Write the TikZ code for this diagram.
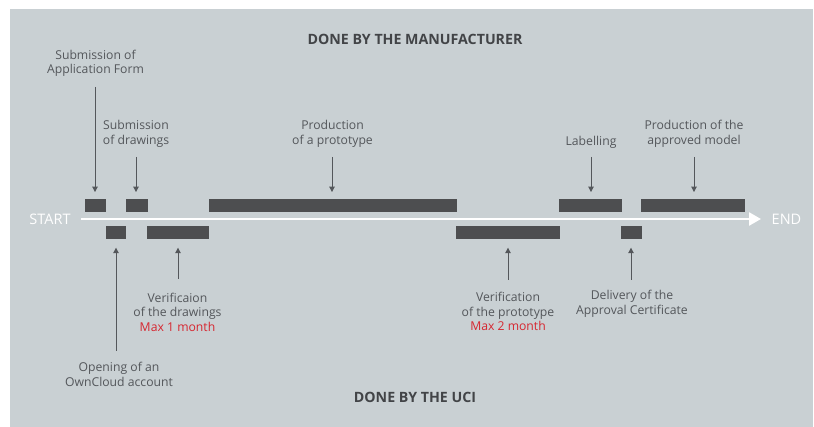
\documentclass[tikz,border=0pt]{standalone}
\usepackage{fontspec}
\setmainfont{Open Sans}
\usetikzlibrary{arrows.meta}
\definecolor{bgc}{RGB}{201,208,211}
\definecolor{barc}{RGB}{77,78,80}
\definecolor{txtc}{RGB}{84,87,91}
\definecolor{headc}{RGB}{66,68,71}
\definecolor{arrc}{RGB}{84,87,91}
\definecolor{redc}{RGB}{214,38,48}
\begin{document}
\begin{tikzpicture}[x=1pt,y=-1pt,
  lbl/.style={inner sep=0pt, align=center, text=txtc, font=\fontsize{12.2}{14.5}\selectfont},
  head/.style={inner sep=0pt, text=headc, font=\fontsize{14.2}{16}\selectfont\bfseries},
  endlbl/.style={inner sep=0pt, text=white, font=\fontsize{14.5}{16}\selectfont},
  barbox/.style={fill=barc, draw=none, inner sep=0pt, minimum height=13.5pt},
  darr/.style={draw=arrc, line width=1pt, -{Triangle[width=5.5pt,length=5.5pt]}, shorten >=6.5pt},
  uarr/.style={draw=arrc, line width=1pt, -{Triangle[width=5.5pt,length=5.5pt]}, shorten >=8pt},
  tline/.style={draw=white, line width=2.6pt, -{Triangle[width=13pt,length=12pt]}, shorten <=10pt, shorten >=10.5pt}
]
\useasboundingbox (0,0) rectangle (814,427);
\fill[white] (0,0) rectangle (814,427);
\fill[bgc] (10,9) rectangle (813,427);

% headings
\node[head] (hman) at (415,39.5) {DONE BY THE MANUFACTURER};
\node[head] (huci) at (415,397) {DONE BY THE UCI};

% start / end
\node[endlbl] (tstart) at (50,219) {START};
\node[endlbl, anchor=west] (tend) at (771.5,219) {END};

% bars above
\node[barbox, minimum width=21pt] (b1) at (95.5,205.5) {};
\node[barbox, minimum width=22pt] (b2) at (137,205.5) {};
\node[barbox, minimum width=248pt] (b3) at (333,205.5) {};
\node[barbox, minimum width=63pt] (b4) at (590.5,205.5) {};
\node[barbox, minimum width=104pt] (b5) at (693,205.5) {};

% bars below
\node[barbox, minimum width=20pt] (b6) at (116,232.75) {};
\node[barbox, minimum width=62pt] (b7) at (178,232.75) {};
\node[barbox, minimum width=104pt] (b8) at (508,232.75) {};
\node[barbox, minimum width=21pt] (b9) at (631.5,232.75) {};

% timeline
\draw[tline] (tstart.east) -- (tend.west);

% labels
\node[lbl] (l1) at (95.5,63.5) {Submission of\\Application Form};
\node[lbl] (l2) at (136,134) {Submission\\of drawings};
\node[lbl] (l3) at (332.5,134) {Production\\of a prototype};
\node[lbl] (l4) at (591,142) {Labelling};
\node[lbl] (l5) at (694,134) {Production of the\\approved model};
\node[lbl] (l6) at (119,374.5) {Opening of an\\OwnCloud account};
\node[lbl] (l7) at (177.5,312) {Verificaion\\of the drawings\\\textcolor{redc}{Max 1 month}};
\node[lbl] (l8) at (508,311.5) {Verification\\of the prototype\\\textcolor{redc}{Max 2 month}};
\node[lbl] (l9) at (632,304) {Delivery of the\\Approval Certificate};

% arrow start points
\coordinate (a1) at (95,87);
\coordinate (a2) at (136,157);
\coordinate (a3) at (332,157);
\coordinate (a4) at (591,157);
\coordinate (a5) at (694,157);
\coordinate (a6) at (116,351);
\coordinate (a7) at (178,279);
\coordinate (a8) at (508,280);
\coordinate (a9) at (631,280);

\draw[darr] (a1) -- (a1 |- b1.north);
\draw[darr] (a2) -- (a2 |- b2.north);
\draw[darr] (a3) -- (a3 |- b3.north);
\draw[darr] (a4) -- (a4 |- b4.north);
\draw[darr] (a5) -- (a5 |- b5.north);
\draw[uarr] (a6) -- (a6 |- b6.south);
\draw[uarr] (a7) -- (a7 |- b7.south);
\draw[uarr] (a8) -- (a8 |- b8.south);
\draw[uarr] (a9) -- (a9 |- b9.south);
\end{tikzpicture}
\end{document}
